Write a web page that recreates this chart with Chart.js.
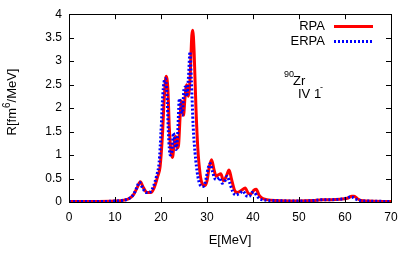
<!DOCTYPE html>
<html><head><meta charset="utf-8">
<script src="https://cdn.jsdelivr.net/npm/chart.js@4"></script>
<style>html,body{margin:0;padding:0;background:#fff}#c{display:block}</style>
</head><body>
<canvas id="c" width="398" height="260"></canvas>
<script>
// ---- data ----
const eRPA = [0,5,10,12,13,14,14.8,15.5,16.2,17,17.8,18.5,19.3,19.8,20.3,20.7,21.1,21.5,21.8,22.2,22.5,22.9,23.2,23.5,23.8,24.2,24.5,24.9,25.2,25.6,25.9,26.3,26.7,26.9,27.2,27.6,28.0,28.5,29.0,29.5,30.0,30.5,31.0,31.5,32.0,32.5,33.0,33.6,34.2,34.8,35.3,36.0,36.6,37.5,38.3,39.0,39.5,40.2,40.7,41.3,42.0,43,45,50,53,55,57,59,60.5,61.5,62.0,62.7,63.5,65,70];
const rpa  = [0.01,0.01,0.02,0.04,0.07,0.15,0.3,0.43,0.3,0.2,0.2,0.3,0.55,0.75,1.4,2.2,2.68,2.4,1.6,1.05,0.95,1.3,1.4,1.15,1.2,1.9,2.15,1.85,2.2,2.5,2.25,2.6,3.55,3.66,3.2,2.0,1.15,0.6,0.38,0.35,0.45,0.75,0.9,0.7,0.55,0.58,0.6,0.45,0.55,0.68,0.5,0.25,0.2,0.25,0.3,0.18,0.17,0.25,0.27,0.15,0.08,0.05,0.03,0.02,0.03,0.05,0.05,0.06,0.08,0.12,0.12,0.07,0.03,0.02,0.01];
const eERPA = [0,5,10,12,13,14,14.7,15.3,16.0,16.8,17.6,18.3,19.1,19.6,20.0,20.4,20.9,21.3,21.6,22.0,22.4,22.7,23.0,23.3,23.6,24.0,24.3,24.6,25.0,25.3,25.6,26.0,26.3,26.6,27.0,27.4,28.0,28.6,29.2,29.7,30.2,30.7,31.2,31.7,32.2,32.7,33.3,33.9,34.4,34.9,35.6,36.2,37.0,37.8,38.6,39.2,39.8,40.3,40.9,41.6,42.5,45,50,53,55,57,59,60.3,61.2,61.7,62.4,63.2,65,70];
const erpa = [0.01,0.01,0.02,0.04,0.07,0.16,0.3,0.42,0.3,0.2,0.21,0.32,0.58,0.85,1.5,2.3,2.63,2.3,1.5,1.0,1.1,1.47,1.3,1.12,1.4,2.2,2.0,1.85,2.4,2.45,2.25,2.7,3.2,2.6,1.6,1.05,0.55,0.35,0.33,0.45,0.7,0.82,0.65,0.5,0.48,0.52,0.4,0.45,0.55,0.42,0.22,0.15,0.18,0.23,0.13,0.12,0.2,0.2,0.12,0.06,0.04,0.03,0.02,0.03,0.05,0.05,0.06,0.08,0.11,0.1,0.06,0.03,0.02,0.01];
const xTicks = [0,10,20,30,40,50,60,70];
const yTicks = [0,0.5,1,1.5,2,2.5,3,3.5,4];
const seriesNames = ['RPA','ERPA'];

const FONT = '"Liberation Sans", Arial, sans-serif';
const toPts = (xs, ys) => xs.map((x, i) => ({x, y: ys[i]}));

const frame = {
  id: 'frame',
  afterDraw(chart) {
    const {ctx, chartArea: a, scales: {x, y}} = chart;
    ctx.save();
    ctx.strokeStyle = '#000'; ctx.lineWidth = 1;
    const L = 5;
    ctx.beginPath();
    xTicks.forEach(v => { const p = Math.round(x.getPixelForValue(v)) + 0.5;
      ctx.moveTo(p, a.bottom); ctx.lineTo(p, a.bottom - L);
      ctx.moveTo(p, a.top); ctx.lineTo(p, a.top + L); });
    yTicks.forEach(v => { const p = Math.round(y.getPixelForValue(v)) + 0.5;
      ctx.moveTo(a.left, p); ctx.lineTo(a.left + L, p);
      ctx.moveTo(a.right, p); ctx.lineTo(a.right - L, p); });
    ctx.stroke();
    ctx.strokeRect(Math.round(a.left) + 0.5, Math.round(a.top) + 0.5, Math.round(a.right - a.left), Math.round(a.bottom - a.top));
    // legend
    ctx.fillStyle = '#000';
    ctx.font = '13px ' + FONT;
    ctx.textAlign = 'right'; ctx.textBaseline = 'middle';
    ctx.fillText(seriesNames[0], 325, 26);
    ctx.fillText(seriesNames[1], 325, 41);
    ctx.lineWidth = 3; ctx.strokeStyle = '#ff0000';
    ctx.beginPath(); ctx.moveTo(334, 26.5); ctx.lineTo(373, 26.5); ctx.stroke();
    ctx.strokeStyle = '#0000ff'; ctx.setLineDash([2, 2]);
    ctx.beginPath(); ctx.moveTo(334, 41.5); ctx.lineTo(373, 41.5); ctx.stroke();
    ctx.setLineDash([]);
    // annotation
    ctx.textAlign = 'left'; ctx.textBaseline = 'alphabetic';
    ctx.font = '9px ' + FONT;
    ctx.fillText('90', 284, 77);
    ctx.font = '13px ' + FONT;
    ctx.fillText('Zr', 293, 85);
    ctx.fillText('IV 1', 298, 98);
    ctx.font = '9px ' + FONT;
    ctx.fillText('-', 320, 90);
    // y title
    ctx.save();
    ctx.translate(16, 102);
    ctx.rotate(-Math.PI / 2);
    const p1 = 'R[fm', p2 = '6', p3 = '/MeV]';
    ctx.font = '13px ' + FONT; const w1 = ctx.measureText(p1).width, w3 = ctx.measureText(p3).width;
    ctx.font = '10px ' + FONT; const w2 = ctx.measureText(p2).width;
    let sx = -(w1 + w2 + w3) / 2;
    ctx.textAlign = 'left';
    ctx.font = '13px ' + FONT; ctx.fillText(p1, sx, 0); sx += w1;
    ctx.font = '10px ' + FONT; ctx.fillText(p2, sx, -6); sx += w2;
    ctx.font = '13px ' + FONT; ctx.fillText(p3, sx, 0);
    ctx.restore();
    ctx.restore();
  }
};

new Chart(document.getElementById('c'), {
  type: 'line',
  data: {
    datasets: [
      { label: seriesNames[0], data: toPts(eRPA, rpa), borderColor: '#ff0000', borderWidth: 3, pointRadius: 0, cubicInterpolationMode: 'monotone', order: 1, fill: false },
      { label: seriesNames[1], data: toPts(eERPA, erpa), borderColor: '#0000ff', borderWidth: 3, borderDash: [2, 2], pointRadius: 0, cubicInterpolationMode: 'monotone', order: 0, fill: false }
    ]
  },
  options: {
    responsive: false, animation: false, devicePixelRatio: 1,
    layout: { padding: { top: 14, right: 0, left: 0, bottom: 0 } },
    plugins: { legend: { display: false }, tooltip: { enabled: false } },
    scales: {
      x: {
        type: 'linear', min: 0, max: 70,
        afterBuildTicks: s => { s.ticks = xTicks.map(v => ({value: v})); },
        afterFit: s => { s.height = 58; s.paddingRight = 7; },
        grid: { display: false, drawTicks: false },
        border: { display: false },
        ticks: { color: '#000', font: { family: FONT, size: 12 }, padding: 8, maxRotation: 0 },
        title: { display: true, text: 'E[MeV]', color: '#000', font: { family: FONT, size: 13 }, padding: { bottom: 12 } }
      },
      y: {
        min: 0, max: 4,
        afterBuildTicks: s => { s.ticks = yTicks.map(v => ({value: v})); },
        afterFit: s => { s.width = 69; },
        grid: { display: false, drawTicks: false },
        border: { display: false },
        ticks: { color: '#000', font: { family: FONT, size: 12 }, padding: 7, callback: v => String(v) }
      }
    }
  },
  plugins: [frame]
});
</script>
</body></html>
